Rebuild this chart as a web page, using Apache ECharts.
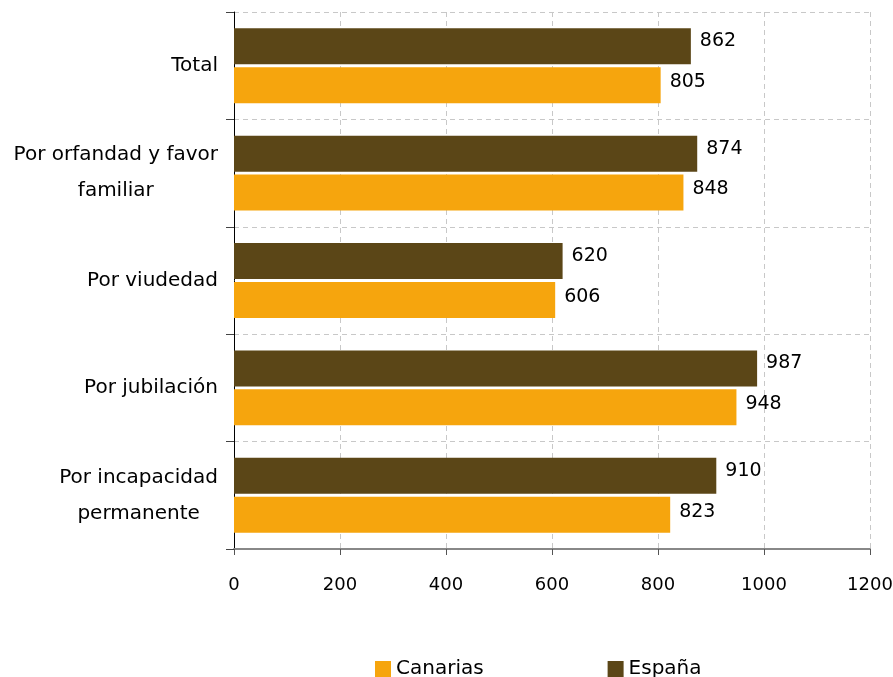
<!DOCTYPE html>
<html>
<head>
<meta charset="utf-8">
<script src="https://cdn.jsdelivr.net/npm/echarts@6/dist/echarts.min.js"></script>
<style>html,body{margin:0;padding:0;background:#fff}#c{width:893px;height:677px}</style>
</head>
<body>
<div id="c"></div>
<script>
const categories = ['Total', 'Por orfandad y favor familiar', 'Por viudedad', 'Por jubilación', 'Por incapacidad permanente'];
const espana = [862, 874, 620, 987, 910];
const canarias = [805, 848, 606, 948, 823];
const xTicks = [0, 200, 400, 600, 800, 1000, 1200];

const FONT = 'DejaVu Sans';
function wrap(s, max) {
  const words = s.split(' ');
  const lines = [];
  let cur = '';
  words.forEach(w => {
    const t = cur ? cur + ' ' + w : w;
    if (t.length > max && cur) { lines.push(cur); cur = w; } else { cur = t; }
  });
  if (cur) lines.push(cur);
  return lines;
}

const chart = echarts.init(document.getElementById('c'), null, {renderer: 'canvas'});
chart.setOption({
  animation: false,
  textStyle: {fontFamily: FONT},
  grid: {left: 234, right: 23, top: 12, bottom: 128, containLabel: false, outerBoundsMode: 'none'},
  legend: {
    data: ['Canarias', 'España'],
    left: 370, top: 654,
    icon: 'rect', itemWidth: 16, itemHeight: 16, itemGap: 124, itemGap: 124,
    textStyle: {fontFamily: FONT, fontSize: 20, color: '#000'}
  },
  xAxis: {
    type: 'value', min: xTicks[0], max: xTicks[xTicks.length - 1], interval: 200,
    axisLine: {show: true, lineStyle: {color: '#888', width: 2}},
    axisTick: {show: true, length: 6, lineStyle: {color: '#555'}},
    axisLabel: {margin: 27, fontFamily: FONT, fontSize: 18, color: '#000', formatter: v => String(v)},
    splitLine: {show: true, lineStyle: {color: '#c8c8c8', type: [5, 4], width: 1}}
  },
  yAxis: {
    type: 'category', data: categories, inverse: true,
    axisLine: {show: true, lineStyle: {color: '#000', width: 1}},
    axisTick: {show: true, length: 8, lineStyle: {color: '#444'}},
    axisLabel: {
      margin: 16, fontFamily: FONT, fontSize: 20, color: '#000',
      formatter: v => wrap(v, 20).map(l => '{c|' + l + '}').join('\n'),
      rich: {c: {align: 'center', fontFamily: FONT, fontSize: 20, lineHeight: 36, color: '#000'}}
    },
    splitLine: {show: true, lineStyle: {color: '#c8c8c8', type: [5, 4], width: 1}}
  },
  series: [
    {
      name: 'España', type: 'bar', data: espana, barWidth: 36, barGap: '8%',
      itemStyle: {color: '#5b4617'},
      label: {show: true, position: 'right', distance: 9, offset: [0, -5], fontFamily: FONT, fontSize: 19, color: '#000'}
    },
    {
      name: 'Canarias', type: 'bar', data: canarias, barWidth: 36, barGap: '8%',
      itemStyle: {color: '#f6a50d'},
      label: {show: true, position: 'right', distance: 9, offset: [0, -3], fontFamily: FONT, fontSize: 19, color: '#000'}
    }
  ]
});
</script>
</body>
</html>
